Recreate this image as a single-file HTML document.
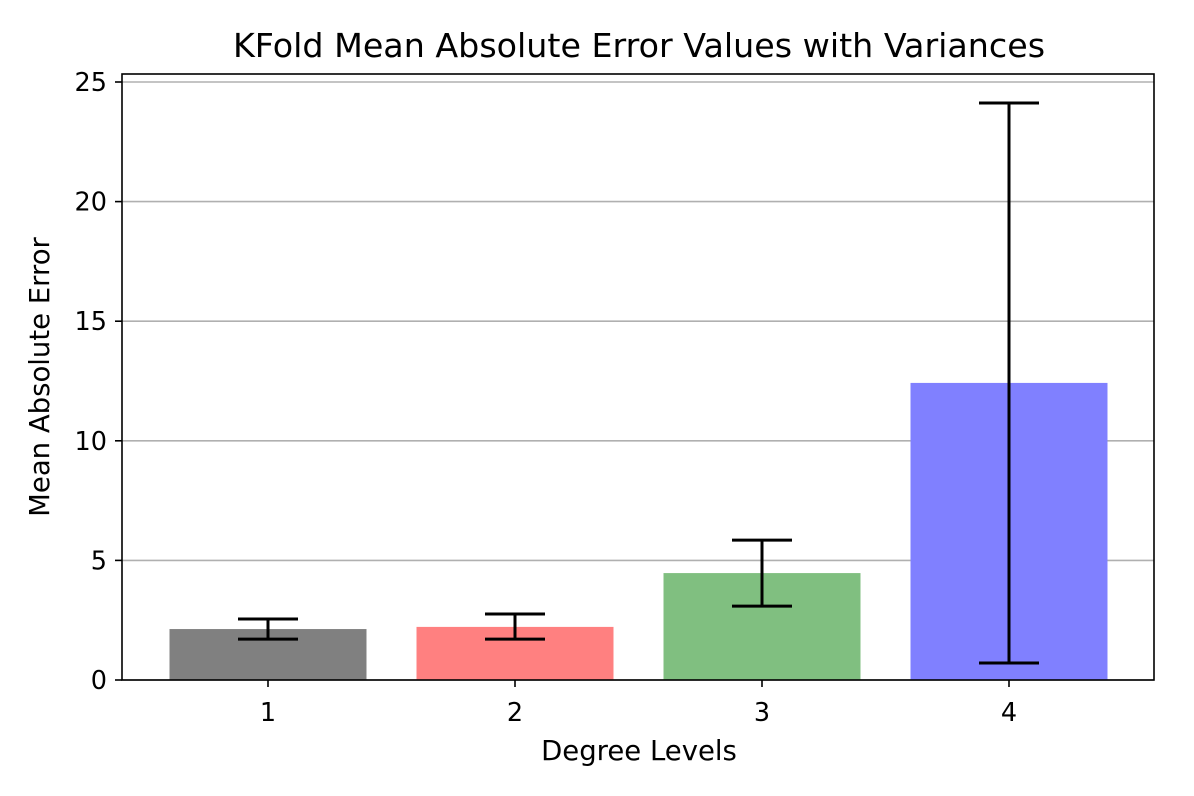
<!DOCTYPE html>
<html><head><meta charset="utf-8"><style>
body{margin:0;background:#fff;}
svg{display:block;font-family:"DejaVu Sans","Liberation Sans",sans-serif;}
</style></head><body>
<svg id="chart" width="1194" height="796"></svg>
<script>
const categories = ["1","2","3","4"];
const means = [2.13, 2.22, 4.47, 12.42];
const errLow = [1.71, 1.71, 3.09, 0.71];
const errHigh = [2.55, 2.76, 5.85, 24.12];
const barColors = ["#808080","#ff8080","#80bf80","#8080ff"];
const yTicks = [0,5,10,15,20,25];

const NS="http://www.w3.org/2000/svg";
const svg=document.getElementById('chart');
const L=122,R=1154,T=74,B=680;
const y=v=>B-v*(598/25);
const x=i=>268+i*247;
function mk(tag,attrs,parent){const e=document.createElementNS(NS,tag);for(const k in attrs)e.setAttribute(k,attrs[k]);(parent||svg).appendChild(e);return e;}

yTicks.forEach(t=>{
  const g=mk('line',{x1:L,x2:R,y1:y(t),y2:y(t),stroke:'#b0b0b0','stroke-width':1.6});
  
  
  const tk=mk('line',{x1:L-7,x2:L,y1:y(t),y2:y(t),stroke:'#000','stroke-width':1.6});
  
  
  const lb=mk('text',{x:L-15,y:y(t)+9,'text-anchor':'end','font-size':25.5});
  lb.textContent=t;
  
  
});
categories.forEach((c,i)=>{
  const b=mk('rect',{x:x(i)-98.5,width:197,y:y(means[i]),height:B-y(means[i]),fill:barColors[i]});
  
  
  const e=mk('g',{stroke:'#000','stroke-width':3});
  
  
  mk('line',{x1:x(i),x2:x(i),y1:y(errLow[i]),y2:y(errHigh[i])},e);
  mk('line',{x1:x(i)-30,x2:x(i)+30,y1:y(errLow[i]),y2:y(errLow[i])},e);
  mk('line',{x1:x(i)-30,x2:x(i)+30,y1:y(errHigh[i]),y2:y(errHigh[i])},e);
  const tk=mk('line',{x1:x(i),x2:x(i),y1:B,y2:B+7,stroke:'#000','stroke-width':1.6});
  
  
  const lb=mk('text',{x:x(i),y:B+41,'text-anchor':'middle','font-size':25.5});
  lb.textContent=c;
  
  
});
const fr=mk('rect',{x:L,y:T,width:R-L,height:B-T,fill:'none',stroke:'#000','stroke-width':1.6});


const ti=mk('text',{x:(L+R)/2+1,y:57,'text-anchor':'middle','font-size':33.3});
ti.textContent='KFold Mean Absolute Error Values with Variances';


const xl=mk('text',{x:(L+R)/2+1,y:760,'text-anchor':'middle','font-size':27.5});
xl.textContent='Degree Levels';


const yl=mk('text',{x:0,y:0,'text-anchor':'middle','font-size':27.5,transform:'translate(49,377) rotate(-90)'});
yl.textContent='Mean Absolute Error';


</script>
</body></html>
